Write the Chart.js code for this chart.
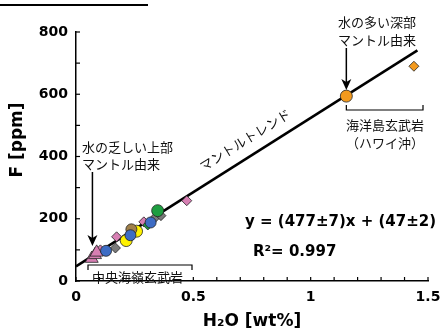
<!DOCTYPE html>
<html>
<head>
<meta charset="utf-8">
<script src="https://cdn.jsdelivr.net/npm/chart.js@4/dist/chart.umd.min.js"></script>
<style>
  html, body { margin: 0; padding: 0; background: #fff; }
  #wrap { width: 444px; height: 335px; }
</style>
</head>
<body>
<div id="wrap"><canvas id="fChart" width="444" height="335"></canvas></div>
<script>
// H2O (wt%) vs F (ppm)
const pinkTriX = [0.067, 0.081, 0.088];
const pinkTriY = [72, 84, 92];
const pinkDiaX = [0.104, 0.173, 0.289, 0.472];
const pinkDiaY = [100, 142, 190, 258];
const grayDiaX = [0.168, 0.336, 0.362];
const grayDiaY = [106, 203, 210];
const yellowX = [0.214, 0.258];
const yellowY = [130, 160];
const brownX = [0.236];
const brownY = [166];
const blueX = [0.128, 0.232, 0.318];
const blueY = [97, 147, 188];
const greenDiaX = [0.306];
const greenDiaY = [180];
const greenX = [0.348];
const greenY = [226];
const oceanCircX = [1.152];
const oceanCircY = [594];
const oceanDiaX = [1.44];
const oceanDiaY = [690];
const trendX = [0, 1.455];
const trendY = [47, 741];

const xTickLabels = [0, 0.5, 1, 1.5];
const yTickLabels = [0, 200, 400, 600, 800];

const pts = (xs, ys) => xs.map((x, i) => ({ x: x, y: ys[i] }));

function marks(label, xs, ys, color, style, r) {
    return {
        type: 'scatter',
        label: label,
        data: pts(xs, ys),
        pointStyle: style,
        pointRadius: r,
        backgroundColor: color,
        borderColor: '#222',
        borderWidth: 0.8,
        clip: false
    };
}

const BOLD = 'DejaVu Sans';
const JP = '"Noto Sans CJK JP"';

// inward tick marks + annotations
const decor = {
    id: 'decor',
    afterDatasetsDraw(chart) {
        const ctx = chart.ctx;
        const xs = chart.scales.x, ys = chart.scales.y;
        const area = chart.chartArea;
        ctx.save();
        ctx.strokeStyle = '#000';
        ctx.lineWidth = 1.2;
        xs.ticks.forEach(t => {
            const p = xs.getPixelForValue(t.value);
            ctx.beginPath(); ctx.moveTo(p, area.bottom); ctx.lineTo(p, area.bottom - 4); ctx.stroke();
        });
        ys.ticks.forEach(t => {
            const p = ys.getPixelForValue(t.value);
            ctx.beginPath(); ctx.moveTo(area.left, p); ctx.lineTo(area.left + 4, p); ctx.stroke();
        });

        // top title underline (text cropped out of frame)
        ctx.lineWidth = 2;
        ctx.beginPath(); ctx.moveTo(0, 5); ctx.lineTo(148, 5); ctx.stroke();

        function arrow(x, y0, y1) {
            ctx.lineWidth = 1.5;
            ctx.beginPath(); ctx.moveTo(x, y0); ctx.lineTo(x, y1 - 8); ctx.stroke();
            ctx.beginPath();
            ctx.moveTo(x - 5, y1 - 11); ctx.lineTo(x, y1); ctx.lineTo(x + 5, y1 - 11);
            ctx.lineTo(x, y1 - 8); ctx.closePath();
            ctx.fillStyle = '#000'; ctx.fill();
        }
        function bracket(x0, x1, y, dy) {
            ctx.lineWidth = 1.2;
            ctx.beginPath();
            ctx.moveTo(x0, y + dy); ctx.lineTo(x0, y); ctx.lineTo(x1, y); ctx.lineTo(x1, y + dy);
            ctx.stroke();
        }

        // deep mantle arrow
        const ox = xs.getPixelForValue(oceanCircX[0]);
        arrow(ox, 48, ys.getPixelForValue(oceanCircY[0]) - 6);
        // shallow mantle arrow
        const tx = xs.getPixelForValue(0.07);
        arrow(tx, 172, 246);

        bracket(ox, 423, 110, -5);
        bracket(88, 192, 265, 5);

        ctx.fillStyle = '#111';
        ctx.textBaseline = 'middle';
        ctx.font = '13px ' + JP;
        ctx.textAlign = 'left';
        ctx.fillText('水の多い深部', 338, 22);
        ctx.fillText('マントル由来', 338, 40);
        ctx.fillText('水の乏しい上部', 82, 147);
        ctx.fillText('マントル由来', 82, 164);
        ctx.fillText('中央海嶺玄武岩', 92, 277);
        ctx.textAlign = 'center';
        ctx.fillText('海洋島玄武岩', 385, 125);
        ctx.fillText('（ハワイ沖）', 385, 143);

        ctx.save();
        ctx.translate(245, 140);
        ctx.rotate(-32 * Math.PI / 180);
        ctx.fillText('マントルトレンド', 0, 0);
        ctx.restore();

        ctx.fillStyle = '#000';
        ctx.textAlign = 'left';
        ctx.font = 'bold 15px "' + BOLD + '"';
        ctx.fillText('y = (477±7)x + (47±2)', 245, 222);
        ctx.fillText('R²= 0.997', 253, 252);

        // y axis title
        ctx.save();
        ctx.translate(18, 140);
        ctx.rotate(-Math.PI / 2);
        ctx.textAlign = 'center';
        ctx.font = 'bold 17px "' + BOLD + '"';
        ctx.fillText('F [ppm]', 0, 0);
        ctx.restore();
        ctx.restore();
    }
};

const ctx = document.getElementById('fChart').getContext('2d');
// first dataset is painted on top
const fChart = new Chart(ctx, {
    type: 'scatter',
    data: {
        datasets: [
            marks('oceanCirc', oceanCircX, oceanCircY, '#f39a1e', 'circle', 6),
            marks('oceanDia', oceanDiaX, oceanDiaY, '#f39a1e', 'rectRot', 5),
            marks('green', greenX, greenY, '#1e9e40', 'circle', 6),
            marks('blue', blueX, blueY, '#3d6cc4', 'circle', 5.5),
            marks('greenDia', greenDiaX, greenDiaY, '#1e9e40', 'rectRot', 5),
            marks('brown', brownX, brownY, '#a0804a', 'circle', 5.5),
            marks('yellow', yellowX, yellowY, '#fff200', 'circle', 6),
            marks('pinkTri', pinkTriX, pinkTriY, '#d77fb3', 'triangle', 7.5),
            marks('pinkDia', pinkDiaX, pinkDiaY, '#d77fb3', 'rectRot', 5),
            marks('gray', grayDiaX, grayDiaY, '#7a7a7a', 'rectRot', 5),
            {
                type: 'line',
                label: 'trend',
                data: pts(trendX, trendY),
                borderColor: '#000',
                borderWidth: 2.5,
                pointRadius: 0,
                fill: false,
                clip: false,
                order: 10
            }
        ]
    },
    options: {
        responsive: false,
        animation: false,
        layout: { padding: { left: 0, right: 16, top: 32, bottom: 0 } },
        plugins: {
            legend: { display: false },
            tooltip: { enabled: false }
        },
        scales: {
            x: {
                type: 'linear',
                min: 0,
                max: 1.5,
                afterFit: s => { s.height = 54; s.paddingLeft = 0; s.paddingRight = 0; },
                grid: { display: false, drawTicks: false },
                border: { display: true, color: '#000', width: 1.5 },
                ticks: {
                    stepSize: 0.1,
                    autoSkip: false,
                    maxRotation: 0,
                    padding: 8,
                    color: '#000',
                    font: { family: BOLD, size: 14, weight: 'bold' },
                    callback: v => {
                        const hit = xTickLabels.find(l => Math.abs(l - v) < 1e-6);
                        return hit === undefined ? '' : String(hit);
                    }
                },
                title: {
                    display: true,
                    text: 'H₂O [wt%]',
                    color: '#000',
                    padding: { top: 0, bottom: 3 },
                    font: { family: BOLD, size: 17, weight: 'bold' }
                }
            },
            y: {
                min: 0,
                max: 800,
                afterFit: s => { s.width = 76; s.paddingTop = 0; s.paddingBottom = 0; },
                grid: { display: false, drawTicks: false },
                border: { display: true, color: '#000', width: 1.5 },
                ticks: {
                    stepSize: 100,
                    autoSkip: false,
                    padding: 8,
                    color: '#000',
                    font: { family: BOLD, size: 14, weight: 'bold' },
                    callback: v => yTickLabels.includes(v) ? String(v) : ''
                },
                title: { display: false }
            }
        }
    },
    plugins: [decor]
});
</script>
</body>
</html>
